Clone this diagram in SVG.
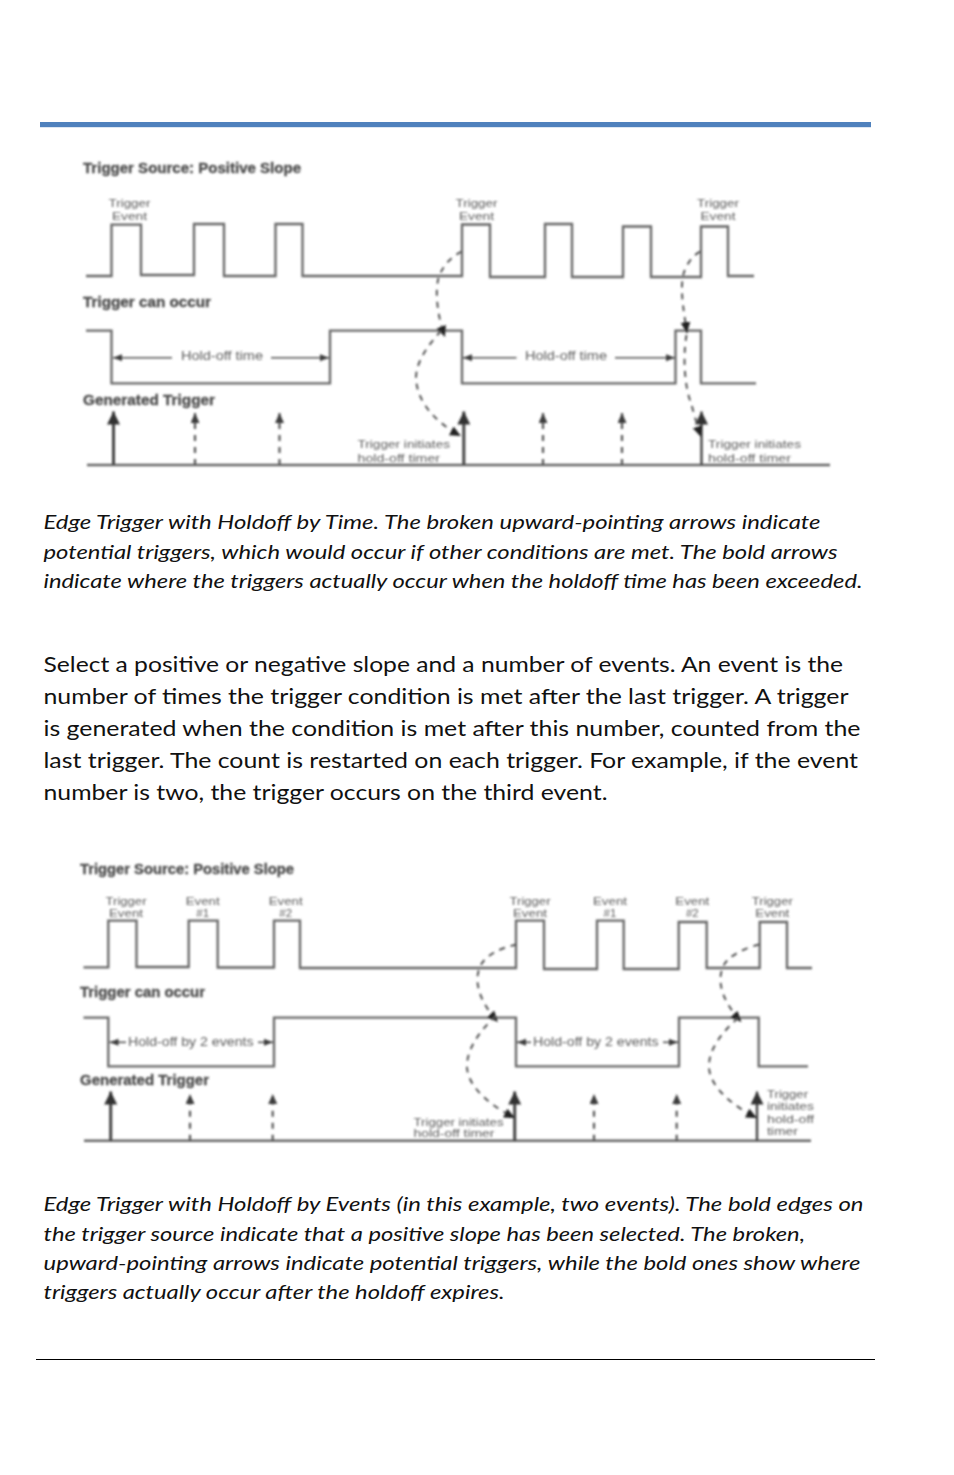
<svg xmlns="http://www.w3.org/2000/svg" width="954" height="1475" viewBox="0 0 954 1475">
<style>
.w{fill:none;stroke:#666;stroke-width:2.3;stroke-linejoin:miter}
.a{fill:none;stroke:#555;stroke-width:1.6}
.s{fill:none;stroke:#444;stroke-width:3}
.d{fill:none;stroke:#555;stroke-width:2.2;stroke-dasharray:6 6}
.c{fill:none;stroke:#555;stroke-width:2;stroke-dasharray:6 6}
.h{font:bold 14px "Liberation Sans",Arial,sans-serif;fill:#4a4a4a;stroke:#4a4a4a;stroke-width:.3}
.l{font:13.5px "Liberation Sans",Arial,sans-serif;fill:#5c5c5c}
.t{font:11.5px "Liberation Sans",Arial,sans-serif;fill:#5c5c5c}
.m{text-anchor:middle}
.cap{font:italic 19.6px Lato,"Open Sans",sans-serif;fill:#111}
.body{font:21.5px Lato,"Open Sans",sans-serif;fill:#111}
.blur{filter:url(#b)}
</style>
<defs>
<filter id="b" filterUnits="userSpaceOnUse" x="0" y="0" width="954" height="1475"><feGaussianBlur stdDeviation="0.85"/></filter>
<marker id="big" markerUnits="userSpaceOnUse" markerWidth="14" markerHeight="14" refX="13" refY="6.5" orient="auto"><path d="M0 0L13 6.5L0 13Z" fill="#333"/></marker>
<marker id="small" markerUnits="userSpaceOnUse" markerWidth="12" markerHeight="12" refX="10" refY="4.5" orient="auto"><path d="M0 0L10 4.5L0 9Z" fill="#3c3c3c"/></marker>
<marker id="hold" markerUnits="userSpaceOnUse" markerWidth="10" markerHeight="8" refX="9" refY="3.5" orient="auto"><path d="M0 0L9 3.5L0 7Z" fill="#3c3c3c"/></marker>
<marker id="cv" markerUnits="userSpaceOnUse" markerWidth="12" markerHeight="11" refX="11" refY="5" orient="auto"><path d="M0 0L11 5L0 10Z" fill="#222"/></marker>
</defs>
<rect width="954" height="1475" fill="#fff"/>
<rect id="top-rule" x="40" y="122" width="831" height="5.2" fill="#4f81bd"/>

<g id="diagram-1" class="blur">
<g id="d1-labels">
<text class="h" x="83" y="173" textLength="218" lengthAdjust="spacingAndGlyphs">Trigger Source: Positive Slope</text>
<text class="h" x="83" y="307" textLength="128" lengthAdjust="spacingAndGlyphs">Trigger can occur</text>
<text class="h" x="83" y="404.5" textLength="132" lengthAdjust="spacingAndGlyphs">Generated Trigger</text>
<text class="t m" x="129.5" y="207" textLength="42" lengthAdjust="spacingAndGlyphs">Trigger</text><text class="t m" x="129.5" y="220" textLength="35" lengthAdjust="spacingAndGlyphs">Event</text>
<text class="t m" x="476.5" y="207" textLength="42" lengthAdjust="spacingAndGlyphs">Trigger</text><text class="t m" x="476.5" y="220" textLength="35" lengthAdjust="spacingAndGlyphs">Event</text>
<text class="t m" x="718" y="207" textLength="42" lengthAdjust="spacingAndGlyphs">Trigger</text><text class="t m" x="718" y="220" textLength="35" lengthAdjust="spacingAndGlyphs">Event</text>
<text class="l" x="181" y="359.5" textLength="82" lengthAdjust="spacingAndGlyphs">Hold-off time</text>
<text class="l" x="525" y="359.5" textLength="82" lengthAdjust="spacingAndGlyphs">Hold-off time</text>
<text class="t" x="357.5" y="448" textLength="92.5" lengthAdjust="spacingAndGlyphs">Trigger initiates</text>
<text class="t" x="357.5" y="461.5" textLength="82.5" lengthAdjust="spacingAndGlyphs">hold-off timer</text>
<text class="t" x="708" y="448" textLength="93" lengthAdjust="spacingAndGlyphs">Trigger initiates</text>
<text class="t" x="708" y="461.5" textLength="83" lengthAdjust="spacingAndGlyphs">hold-off timer</text>
</g>
<path id="d1-source" class="w" d="M86 276H111.5V224.7H141V275H194V224H224V276H275.5V224H302.5V276H462V224.5H490V277H545V224H572V277H623V226.5H651V277H701V226.5H728V276H754"/>
<path id="d1-can-occur" class="w" d="M86 330.7H111.5V383.3H330V330.7H462V383.3H675.5V330.7H701V383.3H756"/>
<path id="d1-baseline" class="w" style="stroke-width:2.6" d="M87 465H830"/>
<g id="d1-connectors">
<path class="a" marker-end="url(#hold)" d="M172 357.7H113"/>
<path class="a" marker-end="url(#hold)" d="M271 357.7H329"/>
<path class="a" marker-end="url(#hold)" d="M516.5 357.7H463"/>
<path class="a" marker-end="url(#hold)" d="M615 357.7H675"/>
<path class="s" marker-end="url(#big)" d="M113.5 465V411.5"/>
<path class="s" marker-end="url(#big)" d="M463.8 465V411.5"/>
<path class="s" style="stroke-width:2.4" marker-end="url(#big)" d="M701.5 465V411.5"/>
<path class="d" marker-end="url(#small)" d="M195 465V413"/>
<path class="d" marker-end="url(#small)" d="M279.5 465V413"/>
<path class="d" marker-end="url(#small)" d="M543 465V413"/>
<path class="d" marker-end="url(#small)" d="M622 465V413"/>
<path class="c" marker-end="url(#cv)" d="M461.7 251.7C450 257 441 268 438 280C435 295 438 318 445 337"/>
<path class="c" marker-end="url(#cv)" d="M441 331C428 345 416 362 416 378C417 405 440 425 461 436"/>
<path class="c" marker-end="url(#cv)" d="M700 251.7C692 256 685 266 683 276C680 292 684 312 687 333"/>
<path class="c" marker-end="url(#cv)" d="M686.5 335C683 355 684 385 691 403C694 414 697 425 701 437"/>
</g>
</g>

<g id="caption-1" class="cap">
<text x="43.5" y="529" textLength="777" lengthAdjust="spacingAndGlyphs">Edge Trigger with Holdoff by Time. The broken upward-pointing arrows indicate</text>
<text x="43.5" y="558.5" textLength="794" lengthAdjust="spacingAndGlyphs">potential triggers, which would occur if other conditions are met. The bold arrows</text>
<text x="43.5" y="587.8" textLength="819" lengthAdjust="spacingAndGlyphs">indicate where the triggers actually occur when the holdoff time has been exceeded.</text>
</g>

<g id="body-text" class="body">
<text x="43.5" y="671.7" textLength="799.5" lengthAdjust="spacingAndGlyphs">Select a positive or negative slope and a number of events. An event is the</text>
<text x="43.5" y="703.8" textLength="805" lengthAdjust="spacingAndGlyphs">number of times the trigger condition is met after the last trigger. A trigger</text>
<text x="43.5" y="736" textLength="817" lengthAdjust="spacingAndGlyphs">is generated when the condition is met after this number, counted from the</text>
<text x="43.5" y="768" textLength="814.5" lengthAdjust="spacingAndGlyphs">last trigger. The count is restarted on each trigger. For example, if the event</text>
<text x="43.5" y="800.2" textLength="564" lengthAdjust="spacingAndGlyphs">number is two, the trigger occurs on the third event.</text>
</g>

<g id="diagram-2" class="blur">
<g id="d2-labels">
<text class="h" x="80" y="874" textLength="214" lengthAdjust="spacingAndGlyphs">Trigger Source: Positive Slope</text>
<text class="h" x="80" y="996.7" textLength="125" lengthAdjust="spacingAndGlyphs">Trigger can occur</text>
<text class="h" x="80" y="1085" textLength="129" lengthAdjust="spacingAndGlyphs">Generated Trigger</text>
<text class="t m" x="126" y="905" textLength="41" lengthAdjust="spacingAndGlyphs">Trigger</text><text class="t m" x="126" y="917.3" textLength="34" lengthAdjust="spacingAndGlyphs">Event</text>
<text class="t m" x="202.7" y="905" textLength="34" lengthAdjust="spacingAndGlyphs">Event</text><text class="t m" x="202.7" y="917.3">#1</text>
<text class="t m" x="285.7" y="905" textLength="34" lengthAdjust="spacingAndGlyphs">Event</text><text class="t m" x="285.7" y="917.3">#2</text>
<text class="t m" x="530" y="905" textLength="41" lengthAdjust="spacingAndGlyphs">Trigger</text><text class="t m" x="530" y="917.3" textLength="34" lengthAdjust="spacingAndGlyphs">Event</text>
<text class="t m" x="610" y="905" textLength="34" lengthAdjust="spacingAndGlyphs">Event</text><text class="t m" x="610" y="917.3">#1</text>
<text class="t m" x="692.3" y="905" textLength="34" lengthAdjust="spacingAndGlyphs">Event</text><text class="t m" x="692.3" y="917.3">#2</text>
<text class="t m" x="772.3" y="905" textLength="41" lengthAdjust="spacingAndGlyphs">Trigger</text><text class="t m" x="772.3" y="917.3" textLength="34" lengthAdjust="spacingAndGlyphs">Event</text>
<text class="l" x="128" y="1045.5" textLength="125.5" lengthAdjust="spacingAndGlyphs">Hold-off by 2 events</text>
<text class="l" x="533" y="1045.5" textLength="125.5" lengthAdjust="spacingAndGlyphs">Hold-off by 2 events</text>
<text class="t" x="413.5" y="1125.7" textLength="90" lengthAdjust="spacingAndGlyphs">Trigger initiates</text>
<text class="t" x="413.5" y="1137" textLength="81" lengthAdjust="spacingAndGlyphs">hold-off timer</text>
<text class="t" x="767" y="1098" textLength="41" lengthAdjust="spacingAndGlyphs">Trigger</text>
<text class="t" x="767" y="1110" textLength="47" lengthAdjust="spacingAndGlyphs">initiates</text>
<text class="t" x="767" y="1122.5" textLength="47" lengthAdjust="spacingAndGlyphs">hold-off</text>
<text class="t" x="767" y="1135" textLength="31" lengthAdjust="spacingAndGlyphs">timer</text>
</g>
<path id="d2-source" class="w" d="M83.5 967.3H108.3V920.7H136.5V967H188.7V920.7H217.7V967.5H274V920.7H300V968H516V920.7H544V969H597V920.7H623.7V969H678.7V922H706.7V968H759.7V922H787V968H812"/>
<path id="d2-can-occur" class="w" d="M83.5 1017.7H108.3V1066.3H274V1017.7H516V1066.3H679V1017.7H758.7V1066.3H808"/>
<path id="d2-baseline" class="w" style="stroke-width:2.6" d="M84 1140.7H811"/>
<g id="d2-connectors">
<path class="a" marker-end="url(#hold)" d="M126 1042.3H109.5"/>
<path class="a" marker-end="url(#hold)" d="M258 1042.3H273"/>
<path class="a" marker-end="url(#hold)" d="M531 1042.3H517"/>
<path class="a" marker-end="url(#hold)" d="M663 1042.3H678"/>
<path class="s" marker-end="url(#big)" d="M110.7 1140.7V1091.5"/>
<path class="s" marker-end="url(#big)" d="M514.7 1140.7V1091.5"/>
<path class="s" style="stroke-width:2.4" marker-end="url(#big)" d="M757 1140.7V1091.5"/>
<path class="d" marker-end="url(#small)" d="M190 1140.7V1094"/>
<path class="d" marker-end="url(#small)" d="M272.7 1140.7V1094"/>
<path class="d" marker-end="url(#small)" d="M594 1140.7V1094"/>
<path class="d" marker-end="url(#small)" d="M676.7 1140.7V1094"/>
<path class="c" marker-end="url(#cv)" d="M516.5 944.5C500 948 484 956 480 967C472 985 484 1007 498 1022"/>
<path class="c" marker-end="url(#cv)" d="M496 1016C480 1030 466 1050 467 1068C469 1090 495 1108 515 1118"/>
<path class="c" marker-end="url(#cv)" d="M759 944.5C745 948 727 956 723 967C715 985 727 1007 741.5 1022"/>
<path class="c" marker-end="url(#cv)" d="M738 1018C722 1032 708 1050 709 1068C711 1090 737 1108 757 1118"/>
</g>
</g>

<g id="caption-2" class="cap">
<text x="43.5" y="1211" textLength="820" lengthAdjust="spacingAndGlyphs">Edge Trigger with Holdoff by Events (in this example, two events). The bold edges on</text>
<text x="43.5" y="1240.5" textLength="761.5" lengthAdjust="spacingAndGlyphs">the trigger source indicate that a positive slope has been selected. The broken,</text>
<text x="43.5" y="1270" textLength="817" lengthAdjust="spacingAndGlyphs">upward-pointing arrows indicate potential triggers, while the bold ones show where</text>
<text x="43.5" y="1299" textLength="461" lengthAdjust="spacingAndGlyphs">triggers actually occur after the holdoff expires.</text>
</g>
<rect id="bottom-rule" x="36" y="1359" width="839" height="1" fill="#000"/>
</svg>
